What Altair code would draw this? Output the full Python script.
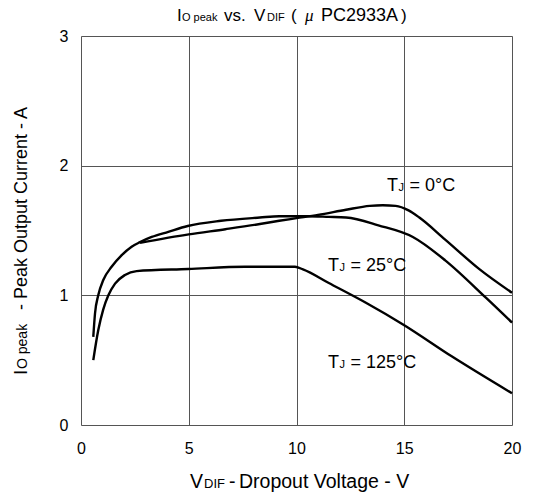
import altair as alt
import pandas as pd

# ---- data ----
series_names = ["TJ = 0°C", "TJ = 25°C", "TJ = 125°C"]
x_0 = [2.74, 5.0, 6.7, 8.3, 9.2, 10.0, 11.0, 12.3, 13.4, 14.0, 14.6, 15.2, 15.7, 16.9, 18.5, 20.0]
y_0 = [1.405, 1.47, 1.51, 1.55, 1.575, 1.595, 1.62, 1.66, 1.69, 1.695, 1.69, 1.655, 1.60, 1.43, 1.20, 1.02]
x_25 = [0.57, 0.65, 0.80, 1.04, 1.42, 1.89, 2.35, 2.74, 3.28, 4.05, 4.95, 6.5, 8.3, 9.2, 10.5, 11.5, 12.3, 13.8, 15.4, 16.9, 18.8, 20.0]
y_25 = [0.68, 0.86, 1.0, 1.12, 1.22, 1.31, 1.375, 1.41, 1.45, 1.49, 1.535, 1.575, 1.60, 1.61, 1.61, 1.605, 1.60, 1.54, 1.45, 1.27, 0.98, 0.79]
x_125 = [0.57, 0.80, 1.03, 1.27, 1.58, 2.04, 2.58, 4.98, 7.61, 9.93, 10.3, 11.5, 13.2, 15.0, 17.2, 20.0]
y_125 = [0.50, 0.73, 0.89, 1.0, 1.09, 1.157, 1.187, 1.203, 1.22, 1.22, 1.20, 1.095, 0.945, 0.77, 0.53, 0.245]

x_ticks = [0, 5, 10, 15, 20]
y_ticks = [0, 1, 2, 3]

label_temps = ["= 0°C", "= 25°C", "= 125°C"]
label_x = [14.2, 11.46, 11.46]
label_y = [1.807, 1.19, 0.437]

FONT = "Liberation Sans"

rows = []
for name, xs, ys in zip(series_names, [x_0, x_25, x_125], [y_0, y_25, y_125]):
    for i, (a, b) in enumerate(zip(xs, ys)):
        rows.append({"series": name, "v": a, "i": b, "k": i})
df = pd.DataFrame(rows)

xs = alt.Scale(domain=[0, 20], nice=False)
ys = alt.Scale(domain=[0, 3], nice=False)

base = alt.Chart(df)
lines = base.mark_line(color="black", strokeWidth=2.4, interpolate="monotone").encode(
    x=alt.X("v:Q", scale=xs,
            axis=alt.Axis(values=x_ticks, title=None, grid=True, domain=False, ticks=False,
                          labelFont=FONT, labelFontSize=16, labelColor="black", labelPadding=15,
                          gridColor="#555", gridWidth=1, labelFlush=False, format="d")),
    y=alt.Y("i:Q", scale=ys,
            axis=alt.Axis(values=y_ticks, title=None, grid=True, domain=False, ticks=False,
                          labelFont=FONT, labelFontSize=16, labelColor="black", labelPadding=13,
                          gridColor="#555", gridWidth=1, labelFlush=False, format="d")),
    detail="series:N",
    order="k:Q",
)

lab_df = pd.DataFrame({"v": label_x, "i": label_y, "rest": label_temps})
lab_T = alt.Chart(lab_df).mark_text(text="T", font=FONT, fontSize=18, align="left",
                                    baseline="alphabetic", color="black").encode(
    x=alt.X("v:Q", scale=xs), y=alt.Y("i:Q", scale=ys))
lab_J = alt.Chart(lab_df).mark_text(text="J", font=FONT, fontSize=11, align="left",
                                    baseline="alphabetic", color="black", dx=11.5).encode(
    x=alt.X("v:Q", scale=xs), y=alt.Y("i:Q", scale=ys))
lab_rest = alt.Chart(lab_df).mark_text(font=FONT, fontSize=18, align="left",
                                       baseline="alphabetic", color="black", dx=22.5).encode(
    x=alt.X("v:Q", scale=xs), y=alt.Y("i:Q", scale=ys), text="rest:N")

# ---- layout text (title and axis titles, with subscripts) ----
OX, OY = 81, 36  # plot origin on the page


def piece(txt, px, py, size, angle=0, font=FONT, style="normal"):
    return alt.Chart(pd.DataFrame({"t": [txt]})).mark_text(
        font=font, fontSize=size, align="left", baseline="alphabetic", color="black",
        angle=angle, fontStyle=style).encode(
        x=alt.value(px - OX), y=alt.value(py - OY), text="t:N")


title_parts = [
    piece("I", 177, 21, 17),
    piece("O peak", 182, 21, 11),
    piece("vs.", 224, 21, 17),
    piece("V", 254, 21, 17),
    piece("DIF", 267, 21, 11),
    piece("(", 291, 21, 17),
    piece("μ", 305, 21, 17, font="Liberation Serif", style="italic"),
    piece("PC2933A", 321, 21, 18),
    piece(")", 401, 21, 17),
]

xtitle_parts = [
    piece("V", 190, 488, 19.5),
    piece("DIF", 204, 488, 13),
    piece("-", 229, 488, 19.5),
    piece("Dropout Voltage - V", 239, 488, 19.5),
]

ytitle_parts = [
    piece("I", 27, 375, 19, angle=270),
    piece("O peak", 27, 369, 14, angle=270),
    piece("-", 27, 310, 18, angle=270),
    piece("Peak Output Current - A", 27, 299, 18, angle=270),
]

chart = alt.layer(
    lines, lab_T, lab_J, lab_rest, *title_parts, *xtitle_parts, *ytitle_parts
).properties(
    width=431, height=389,
    autosize=alt.AutoSizeParams(type="none"),
    padding={"left": 73, "top": 28, "right": 21, "bottom": 67},
).configure_view(
    stroke="black", strokeWidth=2
).configure(background="white")

chart.save("out.html", embed_options={"renderer": "svg", "actions": False})
